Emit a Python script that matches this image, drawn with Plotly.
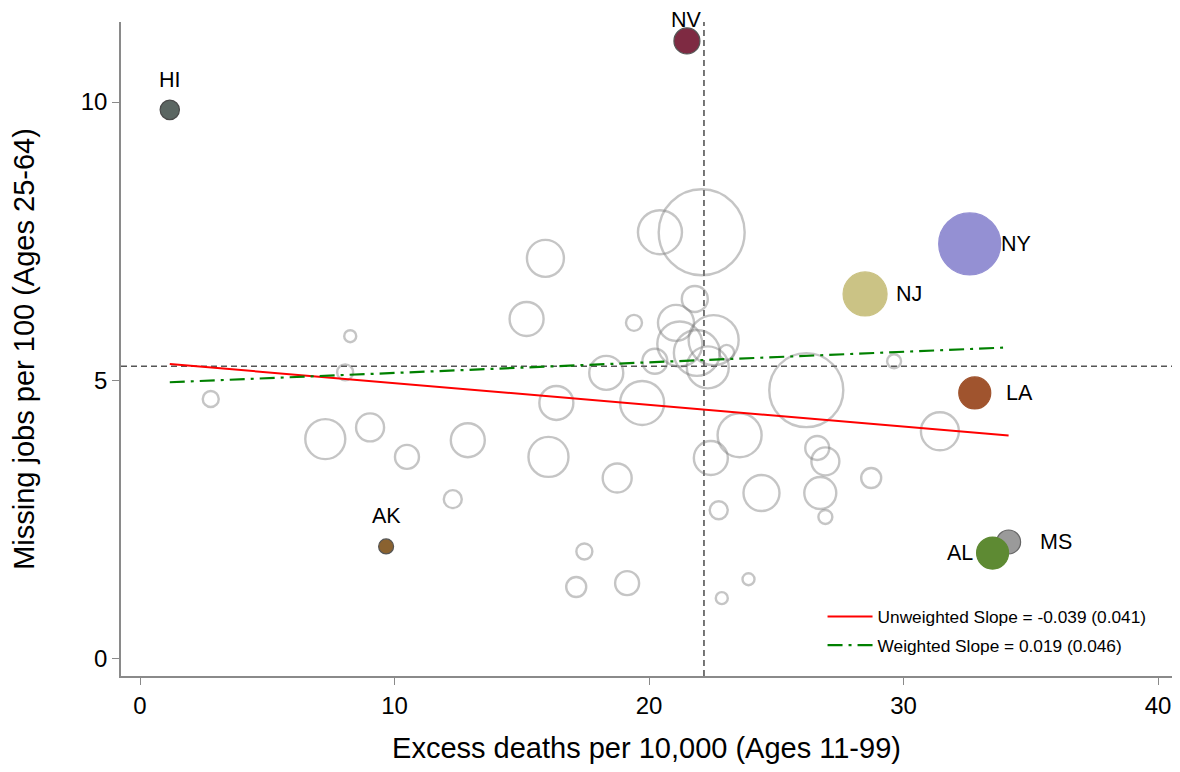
import plotly.graph_objects as go

# ---- data: unlabeled states (excess deaths, missing jobs, population in millions) ----
gray_deaths = [8.26, 8.06, 2.78, 7.28, 9.04, 10.49, 12.88, 12.29, 15.19, 15.93,
               16.36, 16.05, 18.32, 19.73, 19.41, 20.43, 22.07, 21.80, 21.06, 21.21,
               22.54, 21.88, 22.31, 23.05, 20.23, 18.75, 17.46, 17.14, 19.14, 22.43,
               22.74, 22.86, 23.91, 23.56, 24.42, 26.18, 26.61, 26.93, 26.73, 26.93,
               28.73, 29.63, 31.43]
gray_jobs = [5.79, 5.14, 4.66, 3.94, 4.15, 3.62, 3.92, 2.86, 6.10, 7.19,
             4.59, 3.62, 5.13, 4.59, 6.03, 7.66, 7.66, 6.46, 6.03, 5.65,
             5.72, 5.49, 5.23, 5.50, 5.34, 3.24, 1.92, 1.28, 1.35, 3.60,
             2.66, 1.08, 1.42, 4.01, 2.97, 4.82, 3.78, 3.54, 2.97, 2.54,
             3.24, 5.34, 4.08]
gray_pop = [0.73, 1.30, 1.30, 8.12, 3.98, 2.92, 5.87, 1.64, 5.87, 6.95,
            5.87, 8.12, 5.87, 9.83, 1.30, 9.83, 37.5, 3.43, 6.58, 10.28,
            12.7, 10.7, 8.95, 1.14, 3.17, 4.27, 1.30, 2.03, 2.92, 5.87,
            1.64, 0.73, 0.73, 9.83, 6.58, 27.8, 2.92, 3.98, 5.20, 0.99,
            2.03, 0.99, 7.33]

# ---- labeled states ----
lab_states = ["HI", "NV", "NY", "NJ", "LA", "MS", "AL", "AK"]
lab_deaths = [1.17, 21.49, 32.60, 28.49, 32.80, 34.13, 33.50, 9.67]
lab_jobs = [9.86, 11.10, 7.45, 6.55, 4.77, 2.09, 1.89, 2.01]
lab_pop = [1.90, 3.43, 19.5, 9.83, 5.20, 2.92, 5.20, 1.14]
lab_colors = ["#5b6662", "#7e2a42", "#9490d3", "#cbc385", "#a0542e", "#9a9a9a", "#5e8a33", "#8a6230"]
lab_outline = ["#4a4a4a", "#555555", "#9490d3", "#cbc385", "#a0542e", "#666666", "#5e8a33", "#555555"]
lab_side = ["top", "top", "right", "right", "right", "right", "left", "top"]

# ---- reference values and fitted lines ----
mean_deaths = 22.16
mean_jobs = 5.25
unw_intercept, unw_slope = 5.336, -0.039
w_intercept, w_slope = 4.94, 0.019
legend_unw = "Unweighted Slope = -0.039 (0.041)"
legend_w = "Weighted Slope = 0.019 (0.046)"

x_ticks = [0, 10, 20, 30, 40]
y_ticks = [0, 5, 10]

SIZEREF = 0.01015
FONT = "Liberation Sans, Arial, sans-serif"

fig = go.Figure()

fig.add_trace(go.Scatter(
    x=gray_deaths, y=gray_jobs, mode="markers", showlegend=False, hoverinfo="skip",
    marker=dict(size=gray_pop, sizemode="area", sizeref=SIZEREF, color="rgba(0,0,0,0)",
                line=dict(color="rgba(118,118,118,0.6)", width=2.4))))

xmin = min(gray_deaths + lab_deaths)
xmax = max(gray_deaths + lab_deaths)
fig.add_trace(go.Scatter(
    x=[xmin, xmax], y=[unw_intercept + unw_slope * xmin, unw_intercept + unw_slope * xmax],
    mode="lines", name=legend_unw, legendgroup="a", line=dict(color="#ff0000", width=2)))
fig.add_trace(go.Scatter(
    x=[xmin, xmax], y=[w_intercept + w_slope * xmin, w_intercept + w_slope * xmax],
    mode="lines", name=legend_w, legendgroup="b",
    line=dict(color="#008000", width=2.2, dash="longdashdot")))

fig.add_trace(go.Scatter(
    x=lab_deaths, y=lab_jobs, mode="markers", showlegend=False, hoverinfo="skip",
    marker=dict(size=lab_pop, sizemode="area", sizeref=SIZEREF, color=lab_colors,
                opacity=1, line=dict(color=lab_outline, width=1.2))))

for s, x, y, side in zip(lab_states, lab_deaths, lab_jobs, lab_side):
    if side == "top":
        kw = dict(xanchor="center", yanchor="middle", yshift=21 if s == "NV" else 30)
    elif side == "right":
        kw = dict(xanchor="left", yanchor="middle", xshift=29)
    else:
        kw = dict(xanchor="right", yanchor="middle", xshift=-18)
    fig.add_annotation(x=x, y=y, text=s, showarrow=False,
                       font=dict(size=21.5, color="#000000", family=FONT), **kw)

fig.add_shape(type="line", xref="paper", yref="y", x0=0, x1=1, y0=mean_jobs, y1=mean_jobs,
              line=dict(color="#555555", width=1.6, dash="6px,4px"), layer="below")
fig.add_shape(type="line", xref="x", yref="paper", x0=mean_deaths, x1=mean_deaths, y0=0, y1=1,
              line=dict(color="#555555", width=1.6, dash="6px,4px"), layer="below")

# page body adds an 8px margin, so the figure is 16px smaller than the window
fig.update_layout(
    width=1164, height=756,
    margin=dict(l=113, r=0, t=14, b=88, autoexpand=False),
    plot_bgcolor="white", paper_bgcolor="white",
    font=dict(family=FONT, color="#000000"),
    legend=dict(x=0.6675, y=0.118, xanchor="left", yanchor="top",
                font=dict(size=17.3, family=FONT), bgcolor="rgba(0,0,0,0)",
                traceorder="grouped", tracegroupgap=3, itemwidth=45),
    xaxis=dict(range=[-0.7466, 40.55], tickvals=x_ticks, ticktext=[str(v) for v in x_ticks],
               automargin=False, ticklabeloverflow="allow",
               showgrid=False, zeroline=False, showline=True, linecolor="#8a8a8a", linewidth=1.5,
               ticks="outside", ticklen=7, tickcolor="#8a8a8a", tickwidth=1.2,
               tickfont=dict(size=24, family=FONT),
               title=dict(text="Excess deaths per 10,000 (Ages 11-99)", font=dict(size=29, family=FONT),
                          standoff=29)),
    yaxis=dict(range=[-0.32, 11.44], tickvals=y_ticks, ticktext=[str(v) for v in y_ticks],
               automargin=False,
               showgrid=False, zeroline=False, showline=True, linecolor="#8a8a8a", linewidth=1.5,
               ticks="outside", ticklen=7, tickcolor="#8a8a8a", tickwidth=1.2,
               tickfont=dict(size=24, family=FONT),
               title=dict(text="Missing jobs per 100 (Ages 25-64)", font=dict(size=29, family=FONT),
                          standoff=39)),
)

fig.write_html("out.html")
